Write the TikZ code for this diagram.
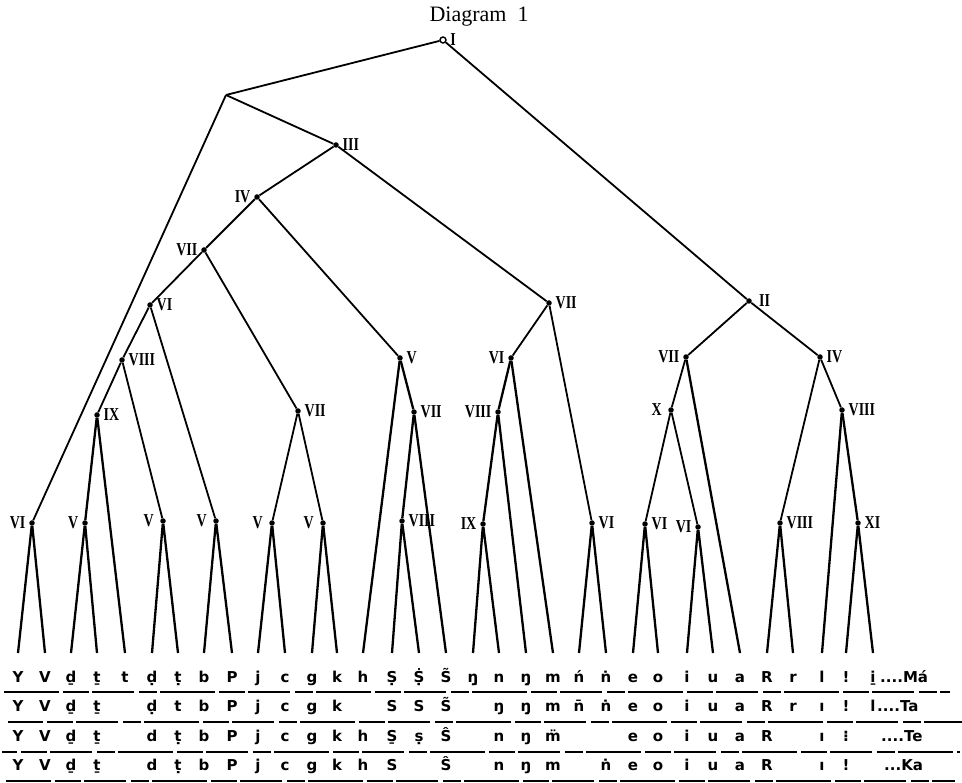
\documentclass[tikz,border=0pt]{standalone}
\usepackage{fontspec}
\setmainfont{Liberation Serif}
\newfontfamily\letf{DejaVu Sans}
\newcommand\rnum[1]{\scalebox{1}[1.3]{#1}}
\begin{document}
\begin{tikzpicture}[x=1pt,y=-1pt,
  br/.style={line width=1.8pt},
  brb/.style={line width=2.3pt},
  dotn/.style={circle,fill,inner sep=0pt,minimum size=5.5pt},
  topn/.style={circle,draw,fill=white,line width=1.4pt,inner sep=0pt,minimum size=6pt},
  rn/.style={font=\bfseries\fontsize{14}{14}\selectfont,inner sep=1pt},
  every label/.style={rn},
  label distance=2.5pt,
  lt/.style={font=\letf\bfseries\fontsize{15}{15}\selectfont,inner sep=0pt,anchor=base},
  ul/.style={line width=1.4pt,dash pattern=on 55pt off 4pt on 26pt off 3pt on 42pt off 5pt on 18pt off 3pt}]
\useasboundingbox (0,0) rectangle (962,783);

\node[font=\fontsize{22}{22}\selectfont,anchor=base west] (title) at (426,22) {Diagram\ \ 1};

% internal nodes
\node[topn,label={right:\rnum{I}}] (nI) at (443,40) {};
\coordinate (nA) at (226,95);
\node[dotn,label={right:\rnum{III}}] (nIII) at (336,145) {};
\node[dotn,label={left:\rnum{IV}}] (nIV) at (257,197) {};
\node[dotn,label={left:\rnum{VII}}] (nVIIa) at (204,250) {};
\node[dotn,label={right:\rnum{VI}}] (nVIa) at (150,305) {};
\node[dotn,label={right:\rnum{VIII}}] (nVIIIa) at (122,360) {};
\node[dotn,label={right:\rnum{IX}}] (nIXa) at (97,415) {};
\node[dotn,label={right:\rnum{VII}}] (nVIIb) at (298,411) {};
\node[dotn,label={right:\rnum{V}}] (nVa) at (400,358) {};
\node[dotn,label={right:\rnum{VII}}] (nVIIc) at (414,412) {};
\node[dotn,label={right:\rnum{VII}}] (nVIId) at (549,303) {};
\node[dotn,label={left:\rnum{VI}}] (nVIb) at (511,358) {};
\node[dotn,label={left:\rnum{VIII}}] (nVIIIb) at (498,412) {};
\node[dotn,label={[label distance=6pt]right:\rnum{II}}] (nII) at (749,301) {};
\node[dotn,label={left:\rnum{VII}}] (nVIIe) at (686,357) {};
\node[dotn,label={right:\rnum{IV}}] (nIVb) at (820,357) {};
\node[dotn,label={[label distance=5pt]left:\rnum{X}}] (nX) at (671,410) {};
\node[dotn,label={right:\rnum{VIII}}] (nVIIIc) at (842,410) {};
% bottom level
\node[dotn,label={left:\rnum{VI}}] (b1) at (32,523) {};
\node[dotn,label={left:\rnum{V}}] (b2) at (85,523) {};
\node[dotn,label={[label distance=5pt]left:\rnum{V}}] (b3) at (163,521) {};
\node[dotn,label={[label distance=5pt]left:\rnum{V}}] (b4) at (216,521) {};
\node[dotn,label={[label distance=5pt]left:\rnum{V}}] (b5) at (272,523) {};
\node[dotn,label={[label distance=5pt]left:\rnum{V}}] (b6) at (323,523) {};
\node[dotn,label={right:\rnum{VIII}}] (b7) at (402,521) {};
\node[dotn,label={left:\rnum{IX}}] (b8) at (483,524) {};
\node[dotn,label={right:\rnum{VI}}] (b9) at (592,523) {};
\node[dotn,label={right:\rnum{VI}}] (b10) at (645,524) {};
\node[dotn,label={left:\rnum{VI}}] (b11) at (698,527) {};
\node[dotn,label={right:\rnum{VIII}}] (b12) at (780,523) {};
\node[dotn,label={right:\rnum{XI}}] (b13) at (858,523) {};

% leaf tips
\foreach \x [count=\i] in {18,45,71,97,125,152,178,204,232,258,285,312,337,363,392,419,446,473,499,526,553,579,606,633,658,687,713,740,767,793,822,846,873}
  \coordinate (L\i) at (\x,653);

% upper branches
\draw[br] (nI) -- (nA);
\draw[br] (nI) -- (nII);
\draw[br] (nA) -- (nIII);
\draw[br] (nA) -- (b1);
\draw[br] (nIII) -- (nIV);
\draw[br] (nIII) -- (nVIId);
\draw[br] (nIV) -- (nVIIa);
\draw[br] (nIV) -- (nVa);
\draw[br] (nVIIa) -- (nVIa);
\draw[br] (nVIIa) -- (nVIIb);
\draw[br] (nVIa) -- (nVIIIa);
\draw[br] (nVIa) -- (b4);
\draw[br] (nVIIIa) -- (nIXa);
\draw[br] (nVIIIa) -- (b3);
\draw[brb] (nIXa) -- (b2);
\draw[brb] (nIXa) -- (L5);
\draw[br] (nVIIb) -- (b5);
\draw[br] (nVIIb) -- (b6);
\draw[brb] (nVa) -- (L14);
\draw[brb] (nVa) -- (nVIIc);
\draw[brb] (nVIIc) -- (b7);
\draw[brb] (nVIIc) -- (L17);
\draw[br] (nVIId) -- (nVIb);
\draw[br] (nVIId) -- (b9);
\draw[brb] (nVIb) -- (nVIIIb);
\draw[brb] (nVIb) -- (L21);
\draw[brb] (nVIIIb) -- (b8);
\draw[brb] (nVIIIb) -- (L20);
\draw[br] (nII) -- (nVIIe);
\draw[br] (nII) -- (nIVb);
\draw[br] (nVIIe) -- (nX);
\draw[brb] (nVIIe) -- (L28);
\draw[br] (nX) -- (b10);
\draw[br] (nX) -- (b11);
\draw[br] (nIVb) -- (b12);
\draw[br] (nIVb) -- (nVIIIc);
\draw[brb] (nVIIIc) -- (L31);
\draw[brb] (nVIIIc) -- (b13);

% bottom triangles
\foreach \n/\a/\b in {b1/L1/L2, b2/L3/L4, b3/L6/L7, b4/L8/L9, b5/L10/L11, b6/L12/L13, b7/L15/L16, b8/L18/L19, b9/L22/L23, b10/L24/L25, b11/L26/L27, b12/L29/L30, b13/L32/L33}
  \draw[brb] (\a) -- (\n) -- (\b);

% letter rows
\def\colx{{18,45,71,97,125,152,178,204,232,258,285,312,337,363,392,419,446,473,499,526,553,579,606,633,658,687,713,740,767,793,822,846,873}}
\foreach \ch [count=\i] in {Y,V,ḏ,ṯ,t,ḍ,ṭ,b,P,j,c,g,k,h,Ṣ,Ṩ,S̃,ŋ̱,n,ŋ̣,m,ń,ṅ,e,o,i,u,a,R,r,l,!,i̱}{
  \pgfmathsetmacro\xx{\colx[\i-1]}
  \node[lt] (ra\i) at (\xx,682) {\ch};}
\foreach \ch [count=\i] in {Y,V,ḏ,ṯ,{},ḍ,t,b,P,j,c,g,k,{},S,S,S̃,{},ŋ,ŋ̣,m,n̄,ṅ,e,o,i,u,a,R,r,ı,!,l}{
  \pgfmathsetmacro\xx{\colx[\i-1]}
  \node[lt] (rb\i) at (\xx,711) {\ch};}
\foreach \ch [count=\i] in {Y,V,ḏ,ṯ,{},d,ṭ,b,P,j,c,g,k,h,S̱,ṣ,Ŝ,{},n,ŋ,m̈,{},{},e,o,i,u,a,R,{},ı,⁝,{}}{
  \pgfmathsetmacro\xx{\colx[\i-1]}
  \node[lt] (rc\i) at (\xx,741) {\ch};}
\foreach \ch [count=\i] in {Y,V,ḏ,ṯ,{},d,ṭ,b,P,j,c,g,k,h,S,{},Ŝ,{},n,ŋ,m,{},ṅ,e,o,i,u,a,R,{},ı,!,{}}{
  \pgfmathsetmacro\xx{\colx[\i-1]}
  \node[lt] (rd\i) at (\xx,770) {\ch};}

\node[lt,anchor=base west] (lMa) at (880,682) {....Má};
\node[lt,anchor=base west] (lTa) at (877,711) {....Ta};
\node[lt,anchor=base west] (lTe) at (881,741) {....Te};
\node[lt,anchor=base west] (lKa) at (884,770) {...Ka};

% underlines
\draw[ul] (4,692) -- (950,692);
\draw[ul,dash phase=20pt] (8,722) -- (962,722);
\draw[ul,dash phase=40pt] (2,752) -- (960,752);
\draw[ul,dash phase=10pt] (6,781) -- (955,781);
\end{tikzpicture}
\end{document}
